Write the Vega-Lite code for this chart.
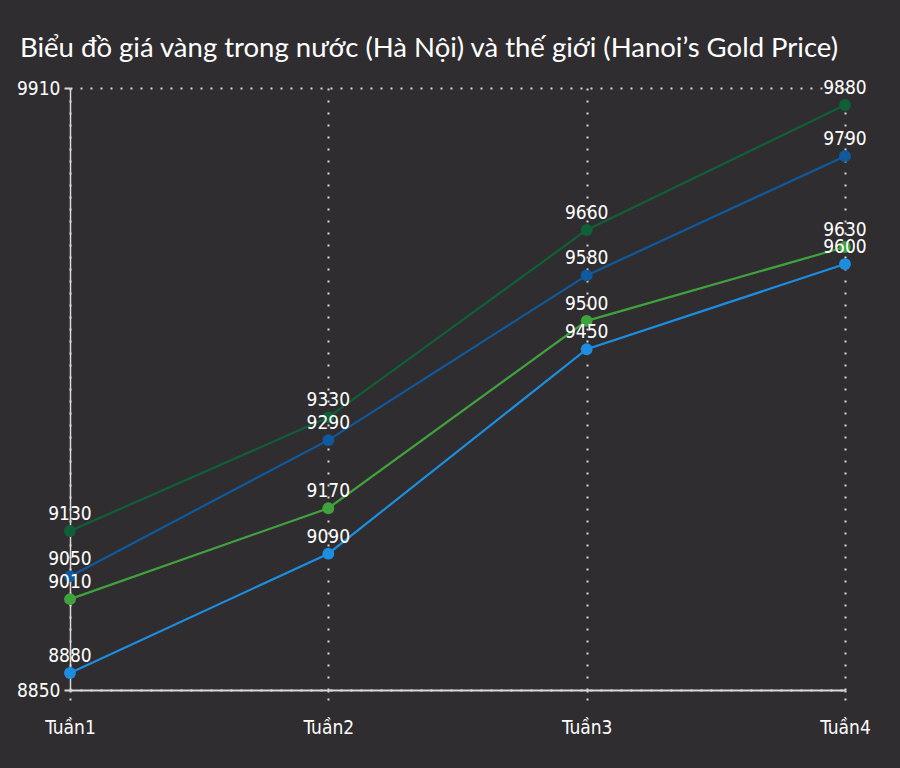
{
  "$schema": "https://vega.github.io/schema/vega-lite/v6.json",
  "width": 775,
  "height": 602,
  "autosize": { "type": "none" },
  "padding": { "left": 70, "top": 88, "right": 55, "bottom": 78 },
  "background": "#2f2d30",
  "config": {
    "font": "DejaVu Sans Condensed, Liberation Sans Narrow, Liberation Sans, sans-serif",
    "view": { "stroke": null },
    "title": {
      "font": "Lato",
      "fontSize": 27.5,
      "fontWeight": "normal",
      "color": "#ffffff",
      "anchor": "start",
      "frame": "group",
      "dx": -50,
      "offset": 17
    }
  },
  "title": "Biểu đồ giá vàng trong nước (Hà Nội) và thế giới (Hanoi’s Gold Price)",
  "data": {
    "values": [
      { "tuan": "Tuần1", "series": "A", "gia": 9130 },
      { "tuan": "Tuần2", "series": "A", "gia": 9330 },
      { "tuan": "Tuần3", "series": "A", "gia": 9660 },
      { "tuan": "Tuần4", "series": "A", "gia": 9880 },
      { "tuan": "Tuần1", "series": "B", "gia": 9050 },
      { "tuan": "Tuần2", "series": "B", "gia": 9290 },
      { "tuan": "Tuần3", "series": "B", "gia": 9580 },
      { "tuan": "Tuần4", "series": "B", "gia": 9790 },
      { "tuan": "Tuần1", "series": "C", "gia": 9010 },
      { "tuan": "Tuần2", "series": "C", "gia": 9170 },
      { "tuan": "Tuần3", "series": "C", "gia": 9500 },
      { "tuan": "Tuần4", "series": "C", "gia": 9630 },
      { "tuan": "Tuần1", "series": "D", "gia": 8880 },
      { "tuan": "Tuần2", "series": "D", "gia": 9090 },
      { "tuan": "Tuần3", "series": "D", "gia": 9450 },
      { "tuan": "Tuần4", "series": "D", "gia": 9600 }
    ]
  },
  "encoding": {
    "x": {
      "field": "tuan",
      "type": "ordinal",
      "scale": { "type": "point", "padding": 0 },
      "axis": {
        "title": null,
        "labelAngle": 0,
        "labelColor": "#ffffff",
        "labelFontSize": 19,
        "labelPadding": 16,
        "domain": true,
        "domainColor": "#d8d8d8",
        "domainWidth": 2,
        "grid": true,
        "gridColor": "#d8d8d8",
        "gridDash": [2, 10],
        "gridWidth": 2,
        "ticks": true,
        "tickColor": "#d8d8d8",
        "tickDash": [2, 6],
        "tickSize": 12,
        "tickWidth": 2
      }
    },
    "y": {
      "field": "gia",
      "type": "quantitative",
      "scale": { "domain": [8850, 9910], "nice": false, "zero": false },
      "axis": {
        "title": null,
        "values": [8850, 9910],
        "format": "d",
        "labelColor": "#ffffff",
        "labelFontSize": 19,
        "labelPadding": 4,
        "domain": true,
        "domainColor": "#d8d8d8",
        "domainWidth": 1.5,
        "grid": true,
        "gridColor": "#d8d8d8",
        "gridDash": [2, 8],
        "gridWidth": 2,
        "ticks": true,
        "tickColor": "#d8d8d8",
        "tickSize": 6,
        "tickWidth": 2
      }
    },
    "color": {
      "field": "series",
      "type": "nominal",
      "legend": null,
      "scale": {
        "domain": ["A", "B", "C", "D"],
        "range": ["#0f6038", "#0f5a9e", "#40a23c", "#1d8de0"]
      }
    }
  },
  "layer": [
    { "mark": { "type": "line", "strokeWidth": 2.2 } },
    { "mark": { "type": "circle", "size": 140, "opacity": 1 } },
    {
      "mark": {
        "type": "text",
        "color": "#ffffff",
        "fontSize": 19,
        "baseline": "alphabetic",
        "dy": -11
      },
      "encoding": {
        "text": { "field": "gia", "type": "quantitative", "format": "d" },
        "color": { "value": "#ffffff" }
      }
    }
  ]
}
